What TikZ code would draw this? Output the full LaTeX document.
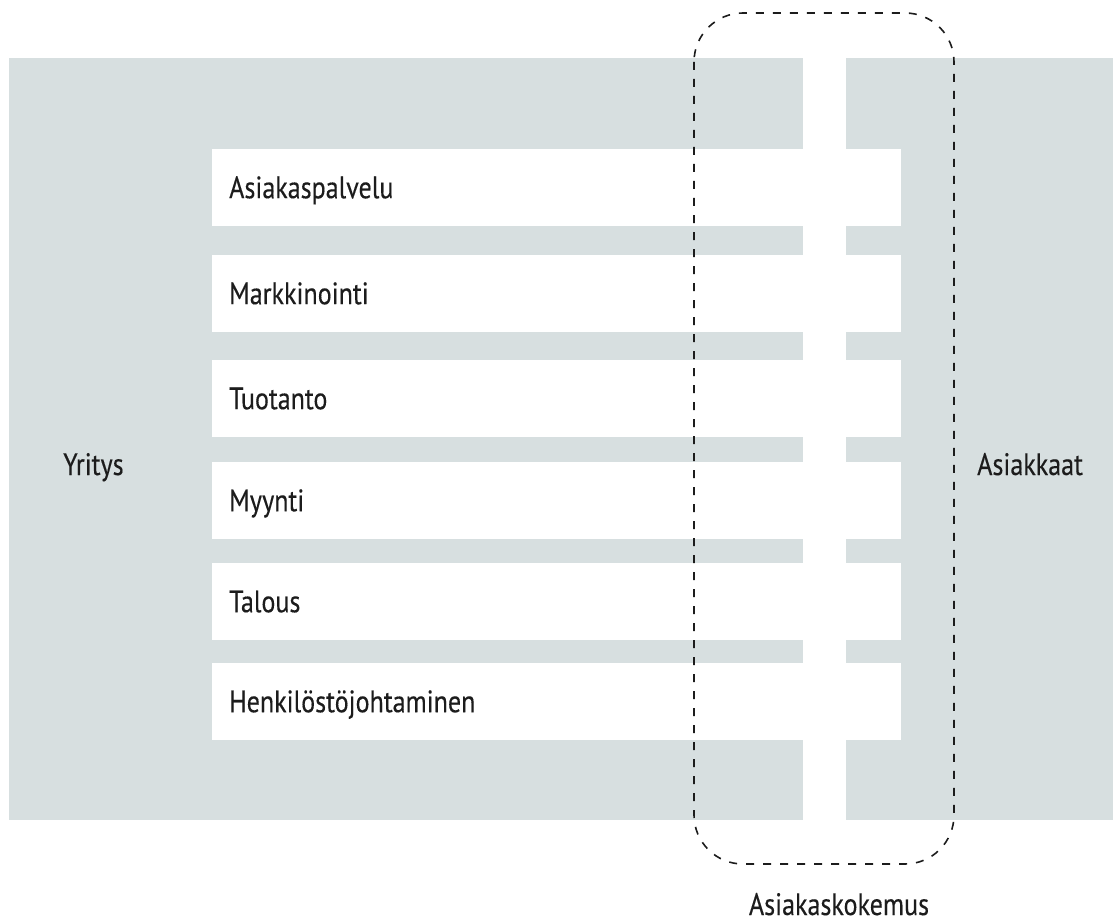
\documentclass[tikz,border=0pt]{standalone}
\usepackage{fontspec}
\setmainfont{PT Sans}[FakeStretch=0.84, FakeBold=0.3]
\definecolor{panelgray}{RGB}{215,223,224}
\definecolor{inkdark}{RGB}{28,28,28}
\begin{document}
\begin{tikzpicture}[x=1pt,y=-1pt,
  every node/.style={font=\fontsize{31}{37}\selectfont, text=inkdark},
  panel/.style={fill=panelgray, draw=none, inner sep=0pt, anchor=north west},
  unitbar/.style={fill=white, draw=none, anchor=north west, minimum width=689pt,
    minimum height=77pt, inner xsep=17pt, inner ysep=0pt, text width=655pt,
    align=left, text height=21pt, text depth=0pt},
  caption/.style={inner sep=0pt, text depth=0pt},
  journey/.style={draw=inkdark, line width=1.6pt, dash pattern=on 8pt off 9pt,
    rounded corners=49pt}]
\useasboundingbox (0,0) rectangle (1113,920);

% company and customer areas
\node[panel, minimum width=794pt, minimum height=762pt] (company) at (9,58) {};
\node[panel, minimum width=267pt, minimum height=762pt] (customers) at (846,58) {};

% business functions
\node[unitbar] (service)    at (212,149) {Asiakaspalvelu};
\node[unitbar] (marketing)  at (212,255) {Markkinointi};
\node[unitbar] (production) at (212,360) {Tuotanto};
\node[unitbar] (sales)      at (212,462) {Myynti};
\node[unitbar] (finance)    at (212,563) {Talous};
\node[unitbar] (hr)         at (212,663) {Henkilöstöjohtaminen};

% customer experience boundary
\coordinate (jtl) at (694,13);
\coordinate (jbr) at (954,864);
\draw[journey] (jtl) rectangle (jbr);

% area labels
\node[caption, anchor=base west] (yritys) at (63,475) {Yritys};
\node[caption, anchor=base west] (asiakkaat) at (977,475) {Asiakkaat};
\node[caption, anchor=base] (kokemus) at (839,915) {Asiakaskokemus};
\end{tikzpicture}
\end{document}
